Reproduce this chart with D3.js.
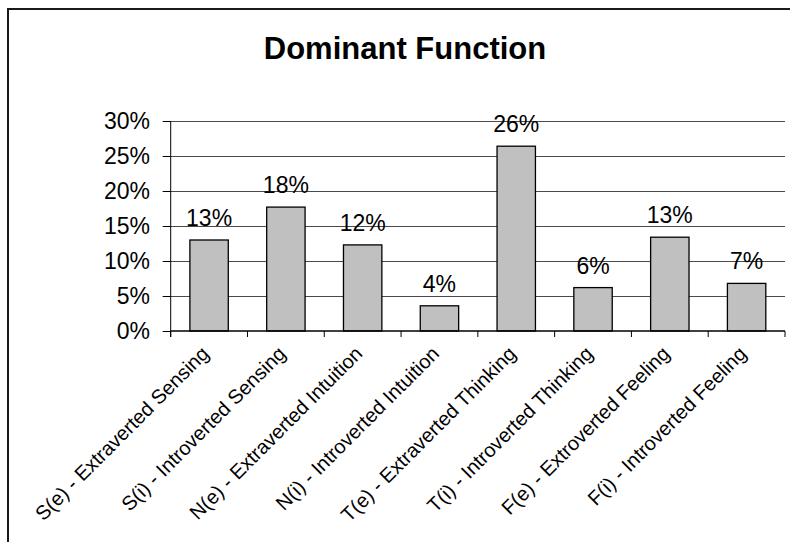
<!DOCTYPE html>
<html>
<head>
<meta charset="utf-8">
<script src="https://cdn.jsdelivr.net/npm/d3@7"></script>
<style>
  html, body { margin: 0; padding: 0; background: #fff; overflow: hidden; }
  svg { display: block; }
  text { font-family: "Liberation Sans", Arial, sans-serif; fill: #000; }
</style>
</head>
<body>
<svg id="chart" width="790" height="542"></svg>
<script>
// Share of each dominant function
const categories = [
  "S(e) - Extraverted Sensing",
  "S(i) - Introverted Sensing",
  "N(e) - Extraverted Intuition",
  "N(i) - Introverted Intuition",
  "T(e) - Extraverted Thinking",
  "T(i) - Introverted Thinking",
  "F(e) - Extroverted Feeling",
  "F(i) - Introverted Feeling"
];
const values = [0.130, 0.177, 0.123, 0.036, 0.264, 0.062, 0.134, 0.068];
const yTicks = [0, 0.05, 0.10, 0.15, 0.20, 0.25, 0.30];
const title = "Dominant Function";

const svg = d3.select("#chart");
const plot = { left: 170.7, right: 785, top: 121, bottom: 331 };
const pct = d3.format(".0%");

// chart frame (runs past the right and bottom edges)
svg.append("rect")
  .attr("x", 8).attr("y", 9)
  .attr("width", 900).attr("height", 700)
  .attr("fill", "#fff")
  .attr("stroke", "#1a1a1a").attr("stroke-width", 2);

// title
svg.append("text")
  .attr("x", 405).attr("y", 59)
  .attr("text-anchor", "middle")
  .style("font-size", "31px").style("font-weight", "bold")
  .text(title);

const y = d3.scaleLinear().domain([0, 0.30]).range([plot.bottom, plot.top]);
const xBand = d3.scaleBand().domain(categories)
  .range([plot.left, plot.right]).paddingInner(0.5).paddingOuter(0.25);
const xCell = d3.scaleBand().domain(categories)
  .range([plot.left, plot.right]).padding(0);

// gridlines
svg.append("g").selectAll("line")
  .data(yTicks.filter(d => d > 0))
  .join("line")
  .attr("x1", plot.left).attr("x2", plot.right)
  .attr("y1", d => Math.round(y(d)) + 0.5).attr("y2", d => Math.round(y(d)) + 0.5)
  .attr("stroke", "#4a4a4a").attr("stroke-width", 1);

// y axis
const yAxis = svg.append("g")
  .attr("transform", `translate(${plot.left},0)`)
  .call(d3.axisLeft(y).tickValues(yTicks).tickFormat(pct).tickSize(8).tickPadding(12.7));
yAxis.select(".domain").attr("stroke", "#000").attr("d", `M0,${plot.top}V${plot.bottom + 6}`);
yAxis.selectAll(".tick line").attr("stroke", "#000");
yAxis.selectAll(".tick text")
  .style("font-family", "'Liberation Sans', Arial, sans-serif")
  .style("font-size", "23px").attr("fill", "#000");

// bars
svg.append("g").selectAll("rect")
  .data(categories)
  .join("rect")
  .attr("x", d => xBand(d))
  .attr("width", xBand.bandwidth())
  .attr("y", (d, i) => y(values[i]))
  .attr("height", (d, i) => y(0) - y(values[i]))
  .attr("fill", "#c0c0c0")
  .attr("stroke", "#000").attr("stroke-width", 1.3);

// value labels
svg.append("g").selectAll("text")
  .data(categories)
  .join("text")
  .attr("x", d => xBand(d) + xBand.bandwidth() / 2)
  .attr("y", (d, i) => y(values[i]) - 14)
  .attr("text-anchor", "middle")
  .style("font-size", "23px")
  .text((d, i) => pct(values[i]));

// x axis line and category separators
svg.append("line")
  .attr("x1", plot.left).attr("x2", plot.right)
  .attr("y1", plot.bottom).attr("y2", plot.bottom)
  .attr("stroke", "#000").attr("stroke-width", 1.3);
const bounds = categories.map(c => xCell(c)).concat([plot.right]);
svg.append("g").selectAll("line")
  .data(bounds)
  .join("line")
  .attr("x1", d => d).attr("x2", d => d)
  .attr("y1", plot.bottom).attr("y2", plot.bottom + 6)
  .attr("stroke", "#000");

// category labels
svg.append("g").selectAll("text")
  .data(categories)
  .join("text")
  .attr("transform", d => `translate(${xBand(d) + xBand.bandwidth() / 2 + 1},${plot.bottom + 24}) rotate(-45)`)
  .attr("text-anchor", "end")
  .style("font-size", "20px")
  .text(d => d);
</script>
</body>
</html>
